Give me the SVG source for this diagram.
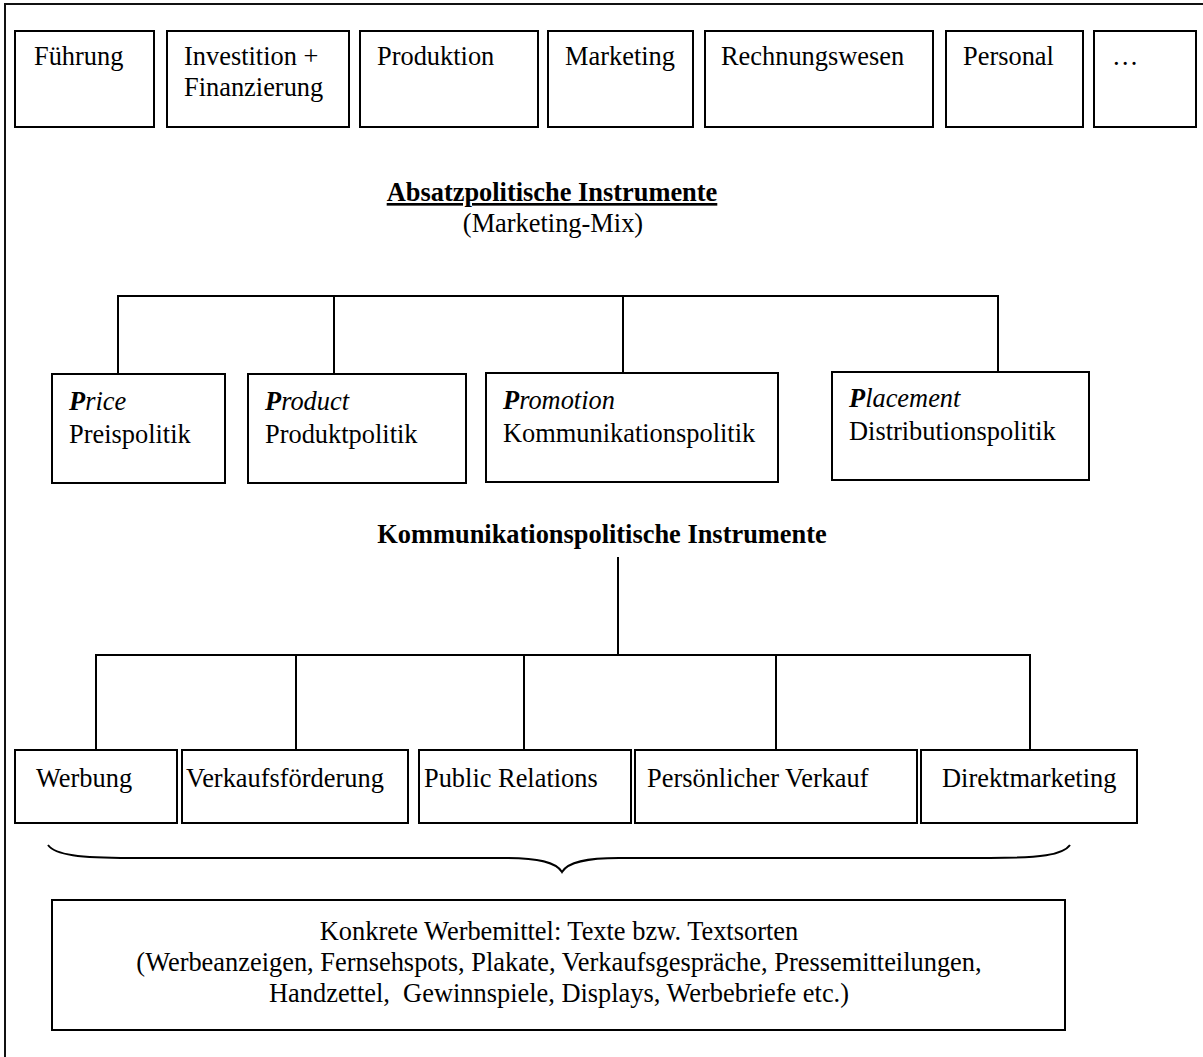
<svg xmlns="http://www.w3.org/2000/svg" width="1203" height="1057" viewBox="0 0 1203 1057">
  <style>
    text { font-family: "Liberation Serif", "Times New Roman", serif; font-size: 26.4px; fill: #000; }
    .box rect { fill: #fff; stroke: #000; stroke-width: 2; }
    .head { font-weight: bold; }
    .it { font-style: italic; }
    .bi { font-style: italic; font-weight: bold; }
    .conn line, .conn path { stroke: #000; stroke-width: 2; fill: none; }
    .mid { text-anchor: middle; }
  </style>

  <rect width="1203" height="1057" fill="#fff"/>
  <!-- page frame, open to the right and bottom -->
  <path d="M5,1057 V4 H1203" fill="none" stroke="#111" stroke-width="2"/>

  <!-- business functions -->
  <g id="fuehrung" class="box"><rect x="15" y="31" width="139" height="96"/><text x="34" y="65">Führung</text></g>
  <g id="investition" class="box"><rect x="167" y="31" width="182" height="96"/><text x="184" y="65">Investition +</text><text x="184" y="96">Finanzierung</text></g>
  <g id="produktion" class="box"><rect x="360" y="31" width="178" height="96"/><text x="377" y="65">Produktion</text></g>
  <g id="marketing" class="box"><rect x="548" y="31" width="145" height="96"/><text x="565" y="65">Marketing</text></g>
  <g id="rechnungswesen" class="box"><rect x="705" y="31" width="228" height="96"/><text x="721" y="65">Rechnungswesen</text></g>
  <g id="personal" class="box"><rect x="946" y="31" width="137" height="96"/><text x="963" y="65">Personal</text></g>
  <g id="weitere" class="box"><rect x="1094" y="31" width="102" height="96"/><text x="1112" y="65">…</text></g>

  <!-- marketing mix heading -->
  <g id="absatzpolitik">
    <text class="head mid" x="552" y="201" text-decoration="underline">Absatzpolitische Instrumente</text>
    <text class="mid" x="553" y="232">(Marketing-Mix)</text>
  </g>

  <!-- the four Ps -->
  <g id="price" class="box"><rect x="52" y="374" width="173" height="109"/><text x="69" y="410"><tspan class="bi">P</tspan><tspan class="it">rice</tspan></text><text x="69" y="443">Preispolitik</text></g>
  <g id="product" class="box"><rect x="248" y="374" width="218" height="109"/><text x="265" y="410"><tspan class="bi">P</tspan><tspan class="it">roduct</tspan></text><text x="265" y="443">Produktpolitik</text></g>
  <g id="promotion" class="box"><rect x="486" y="373" width="292" height="109"/><text x="503" y="409"><tspan class="bi">P</tspan><tspan class="it">romotion</tspan></text><text x="503" y="442">Kommunikationspolitik</text></g>
  <g id="placement" class="box"><rect x="832" y="372" width="257" height="108"/><text x="849" y="407"><tspan class="bi">P</tspan><tspan class="it">lacement</tspan></text><text x="849" y="440">Distributionspolitik</text></g>

  <!-- communication heading -->
  <g id="kommunikationspolitik">
    <text class="head mid" x="602" y="543">Kommunikationspolitische Instrumente</text>
  </g>

  <!-- communication instruments -->
  <g id="werbung" class="box"><rect x="15" y="750" width="162" height="73"/><text x="36" y="787">Werbung</text></g>
  <g id="verkaufsfoerderung" class="box"><rect x="182" y="750" width="226" height="73"/><text x="186" y="787">Verkaufsförderung</text></g>
  <g id="public-relations" class="box"><rect x="419" y="750" width="212" height="73"/><text x="424" y="787">Public Relations</text></g>
  <g id="persoenlicher-verkauf" class="box"><rect x="635" y="750" width="282" height="73"/><text x="647" y="787">Persönlicher Verkauf</text></g>
  <g id="direktmarketing" class="box"><rect x="921" y="750" width="216" height="73"/><text x="942" y="787">Direktmarketing</text></g>

  <!-- concrete advertising media -->
  <g id="werbemittel" class="box">
    <rect x="52" y="900" width="1013" height="130"/>
    <text class="mid" x="559" y="940">Konkrete Werbemittel: Texte bzw. Textsorten</text>
    <text class="mid" x="559" y="971">(Werbeanzeigen, Fernsehspots, Plakate, Verkaufsgespräche, Pressemitteilungen,</text>
    <text class="mid" x="559" y="1002" style="white-space:pre">Handzettel,  Gewinnspiele, Displays, Werbebriefe etc.)</text>
  </g>

  <g id="connectors" class="conn">
    <!-- marketing mix tree -->
    <line x1="117" y1="296" x2="999" y2="296"/>
    <line x1="118" y1="296" x2="118" y2="374"/>
    <line x1="334" y1="296" x2="334" y2="374"/>
    <line x1="623" y1="296" x2="623" y2="373"/>
    <line x1="998" y1="296" x2="998" y2="372"/>
    <!-- communication tree -->
    <line x1="618" y1="557" x2="618" y2="655" stroke-width="2.6"/>
    <line x1="95" y1="655" x2="1031" y2="655"/>
    <line x1="96" y1="655" x2="96" y2="750"/>
    <line x1="296" y1="655" x2="296" y2="750"/>
    <line x1="524" y1="655" x2="524" y2="750"/>
    <line x1="776" y1="655" x2="776" y2="750"/>
    <line x1="1030" y1="655" x2="1030" y2="750"/>
    <!-- brace gathering the instruments -->
    <path d="M48,845 C55,855 80,858 130,858 L505,858 C538,858 556,862 562,872 C568,862 586,858 619,858 L990,858 C1040,858 1063,855 1070,845"/>
  </g>
</svg>
